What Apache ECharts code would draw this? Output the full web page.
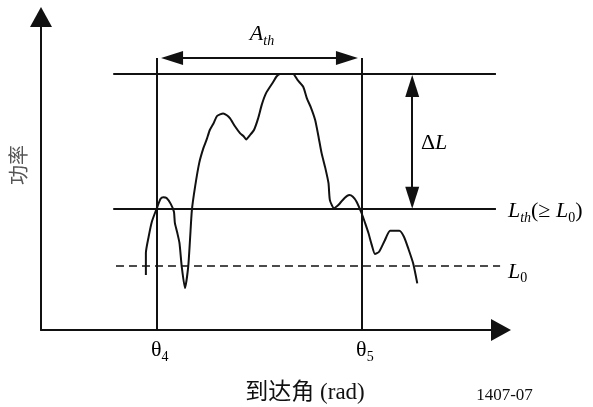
<!DOCTYPE html>
<html>
<head>
<meta charset="utf-8">
<script src="https://cdn.jsdelivr.net/npm/echarts@6/dist/echarts.min.js"></script>
<style>
  html, body { margin: 0; padding: 0; background: #fff; }
  #main { width: 593px; height: 407px; }
</style>
</head>
<body>
<div id="main"></div>
<script>
// received power versus angle of arrival (arbitrary chart units, 0..10 on both axes)
const curveAngle = [2.28, 2.28, 2.34, 2.41, 2.52, 2.60, 2.66, 2.73, 2.82, 2.89, 2.91, 2.96, 3.01, 3.06, 3.13,
  3.20, 3.24, 3.28, 3.35, 3.44, 3.53, 3.60, 3.67, 3.75, 3.83, 3.96, 4.04, 4.11, 4.22, 4.33, 4.40, 4.46,
  4.54, 4.63, 4.72, 4.80, 4.89, 5.05, 5.12, 5.20, 5.48, 5.58, 5.70, 5.78, 5.87, 5.96, 6.03, 6.10, 6.18,
  6.25, 6.28, 6.37, 6.44, 6.50, 6.60, 6.70, 6.78, 6.86, 6.97, 7.05, 7.12, 7.19, 7.26, 7.35, 7.47, 7.59,
  7.79, 7.89, 7.99, 8.09, 8.18];
const curvePower = [1.76, 2.46, 2.98, 3.46, 3.90, 4.19, 4.24, 4.22, 4.03, 3.78, 3.42, 3.12, 2.78, 2.02, 1.34,
  2.02, 2.90, 3.83, 4.58, 5.34, 5.81, 6.08, 6.39, 6.60, 6.84, 6.92, 6.86, 6.76, 6.50, 6.28, 6.20, 6.09,
  6.22, 6.39, 6.76, 7.20, 7.56, 7.93, 8.10, 8.18, 8.18, 7.98, 7.77, 7.40, 7.10, 6.71, 6.20, 5.65, 5.18,
  4.69, 4.15, 3.89, 3.96, 4.05, 4.22, 4.31, 4.26, 4.10, 3.73, 3.40, 3.09, 2.72, 2.43, 2.50, 2.85, 3.17,
  3.17, 2.98, 2.58, 2.13, 1.49];

const thetaAngles = [2.52, 6.97];          // θ4, θ5
const thetaNames = ['4', '5'];
const thetaLineTop = 8.69;
const peakLevel = 8.18;                    // top of the main lobe
const thresholdLevel = 3.87;               // Lth
const noiseLevel = 2.04;                   // L0
const levelSpan = [1.57, 9.89];
const noiseSpan = [1.63, 9.98];
const widthArrow = { y: 8.69, from: 2.61, to: 6.89 };           // Ath, tip to tip
const deltaArrow = { x: 8.07, from: thresholdLevel, to: 8.15 }; // ΔL, tip to tip

const serif = '"Liberation Serif", "Times New Roman", serif';
const cjk = '"Liberation Serif", "Noto Sans CJK SC", serif';
const ink = '#111';
const headLen = 22, headWidth = 14;

const chart = echarts.init(document.getElementById('main'));

const rich = {
  i: { fontFamily: serif, fontStyle: 'italic', fontSize: 22, lineHeight: 28, verticalAlign: 'middle', color: ink },
  n: { fontFamily: serif, fontSize: 22, lineHeight: 28, verticalAlign: 'middle', color: ink },
  is: { fontFamily: serif, fontStyle: 'italic', fontSize: 14, lineHeight: 28, verticalAlign: 'bottom', color: ink },
  ns: { fontFamily: serif, fontSize: 14, lineHeight: 28, verticalAlign: 'bottom', color: ink }
};

const axisStyle = {
  type: 'value', min: 0, max: 10,
  axisLine: { show: true, symbol: ['none', 'triangle'], symbolSize: [22, 20], lineStyle: { color: ink, width: 2 } },
  axisTick: { show: false }, axisLabel: { show: false }, splitLine: { show: false }
};

chart.setOption({
  animation: false,
  grid: { left: 41, right: 92, top: 17, bottom: 77 },
  xAxis: axisStyle,
  yAxis: axisStyle,
  series: [
    {
      name: 'power',
      type: 'line',
      data: curveAngle.map((a, i) => [a, curvePower[i]]),
      showSymbol: false,
      smooth: 0.2,
      lineStyle: { color: ink, width: 2 },
      markLine: {
        silent: true, symbol: 'none', label: { show: false },
        lineStyle: { color: ink, width: 2, type: 'solid' },
        data: [
          [{ coord: [levelSpan[0], peakLevel] }, { coord: [levelSpan[1], peakLevel] }],
          [{ coord: [levelSpan[0], thresholdLevel] }, { coord: [levelSpan[1], thresholdLevel] }],
          ...thetaAngles.map(a => [{ coord: [a, 0] }, { coord: [a, thetaLineTop] }])
        ]
      }
    },
    {
      name: 'noise',
      type: 'line',
      data: [],
      markLine: {
        silent: true, symbol: 'none', label: { show: false },
        lineStyle: { color: ink, width: 1.6, type: [8, 5] },
        data: [[{ coord: [noiseSpan[0], noiseLevel] }, { coord: [noiseSpan[1], noiseLevel] }]]
      }
    }
  ]
});

const px = (x, y) => chart.convertToPixel({ gridIndex: 0 }, [x, y]);

// arrow heads are centred on the line ends, so pull the ends in by half a head
const unitX = px(1, 0)[0] - px(0, 0)[0];
const unitY = px(0, 0)[1] - px(0, 1)[1];
const dx = headLen / 2 / unitX, dy = headLen / 2 / unitY;
chart.setOption({
  series: [{}, {}, {
    name: 'arrows',
    type: 'line',
    data: [],
    markLine: {
      silent: true, symbol: ['triangle', 'triangle'], symbolSize: [headWidth, headLen],
      label: { show: false },
      lineStyle: { color: ink, width: 2, type: 'solid' },
      itemStyle: { color: ink },
      data: [
        [{ coord: [widthArrow.from + dx, widthArrow.y] }, { coord: [widthArrow.to - dx, widthArrow.y] }],
        [{ coord: [deltaArrow.x, deltaArrow.from + dy] }, { coord: [deltaArrow.x, deltaArrow.to - dy] }]
      ]
    }
  }]
});

// annotation texts, anchored in chart units
const texts = [
  { at: [4.54, 9.46], text: '{i|A}{is|th}' },
  { at: [8.26, 5.97], text: '{n|Δ}{i|L}' },
  { at: [10.15, 3.80], text: '{i|L}{is|th}{n|(≥ }{i|L}{ns|0}{n|)}' },
  { at: [10.15, 1.86], text: '{i|L}{ns|0}' },
  { at: [2.39, -0.64], text: '{n|θ}{ns|' + thetaNames[0] + '}' },
  { at: [6.85, -0.64], text: '{n|θ}{ns|' + thetaNames[1] + '}' }
];
const graphic = texts.map(t => {
  const p = px(t.at[0], t.at[1]);
  return { type: 'text', x: p[0], y: p[1], silent: true,
    style: { text: t.text, rich: rich, align: 'left', verticalAlign: 'middle' } };
});
const xt = px(5.74, -2.0);
graphic.push({ type: 'text', x: xt[0], y: xt[1], silent: true,
  style: { text: '到达角 (rad)', font: '23px ' + cjk, fill: ink, align: 'center', verticalAlign: 'middle' } });
const code = px(9.46, -2.08);
graphic.push({ type: 'text', x: code[0], y: code[1], silent: true,
  style: { text: '1407-07', font: '17px ' + serif, fill: ink, align: 'left', verticalAlign: 'middle' } });
const yt = px(-0.5, 5.27);
graphic.push({ type: 'text', x: yt[0], y: yt[1], rotation: Math.PI / 2, silent: true,
  style: { text: '功率', font: '20px "Noto Sans CJK SC", sans-serif', fill: '#555', align: 'center', verticalAlign: 'middle' } });
chart.setOption({ graphic: graphic });
</script>
</body>
</html>
